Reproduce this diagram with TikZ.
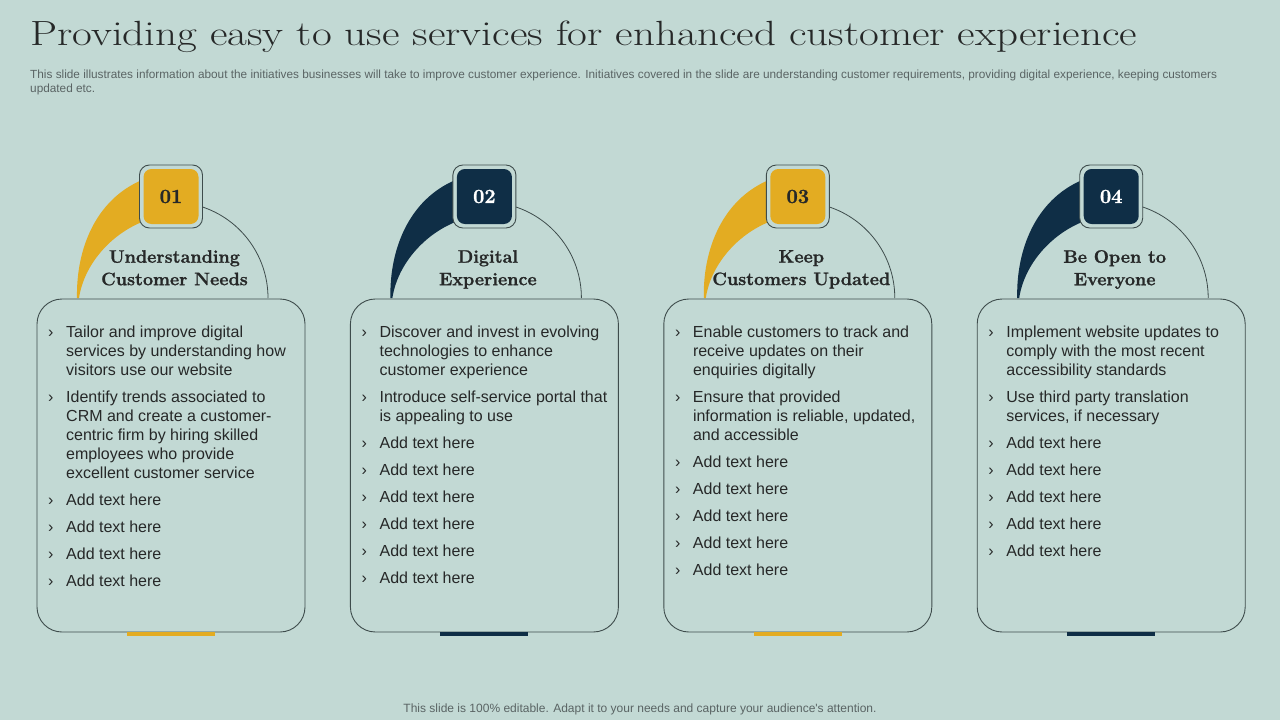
\documentclass[tikz,border=0pt]{standalone}
\usepackage{fontspec}
\usepackage{xcolor}
\usepackage{graphicx}
\usepackage{tikz}
\usetikzlibrary{positioning}
\newfontfamily\bodyfont{Liberation Sans}
\newfontfamily\headfont[BoldFeatures={FakeBold=1.2}]{Latin Modern Roman}
\definecolor{slidebg}{HTML}{C2D9D4}
\definecolor{gold}{HTML}{E3AC22}
\definecolor{navy}{HTML}{0F2E46}
\definecolor{inkline}{HTML}{3E4C4C}
\definecolor{inktext}{HTML}{262828}
\definecolor{subtext}{HTML}{5A6464}

\begin{document}
\begin{tikzpicture}[x=1pt,y=-1pt,
	card/.style={draw=inkline, line width=0.9pt, rounded corners=25pt, minimum width=268pt, minimum height=333pt, inner sep=0pt},
	numbox/.style={draw=inkline, fill=slidebg, line width=0.9pt, rounded corners=10pt, minimum size=63pt, inner sep=0pt},
	numfill/.style={rounded corners=8pt, minimum size=55pt, inner sep=0pt, font=\headfont\fontsize{20}{24}\selectfont\bfseries},
	heading/.style={anchor=north, align=center, inner sep=0pt, text=inktext, font=\headfont\fontsize{18}{22.5}\selectfont\bfseries},
	itemtext/.style={anchor=base west, inner sep=0pt, text=inktext, font=\bodyfont\fontsize{16}{19}\selectfont}
	]
	\fill[slidebg] (0,0) rectangle (1280,720);
	\useasboundingbox (0,0) rectangle (1280,720);
	
	% Title and subtitle
	\node[anchor=base west, inner sep=0pt, text=inktext, font=\fontsize{35}{38}\selectfont] (title) at (30,45) {\scalebox{1.23}[1]{Providing easy to use services for enhanced customer experience}};
	\node[anchor=base west, inner sep=0pt, align=left, text=subtext, font=\bodyfont\fontsize{11.8}{13.5}\selectfont] (subtitle) at (30,92) {This slide illustrates information about the initiatives businesses will take to improve customer experience. Initiatives covered in the slide are understanding customer requirements, providing digital experience, keeping customers\\updated etc.};
	
	% Four cards
	\foreach \i/\cx/\col/\numcol/\head in {1/171/gold/inktext/{Understanding\\Customer Needs}, 2/484.4/navy/white/{Digital\\Experience}, 3/797.8/gold/inktext/{Keep\\Customers Updated}, 4/1111.2/navy/white/{Be Open to\\Everyone}}{
		\fill[\col] ({\cx-94},298) .. controls ({\cx-95},250) and ({\cx-76},200) .. ({\cx-29},180) -- ({\cx-29},222) .. controls ({\cx-61},235) and ({\cx-87},265) .. ({\cx-92},298) -- cycle;
		\draw[inkline, line width=0.8pt] ({\cx+97},298) arc[start angle=0, end angle=75, radius=96pt];
		\node[card] (card\i) at (\cx,465.5) {};
		\draw[\col, line width=3.5pt] ({\cx-44},634) -- ({\cx+44},634);
		\node[numbox] (num\i) at (\cx,196.5) {};
		\node[numfill, fill=\col, text=\numcol] (numin\i) at (num\i) {0\i};
		\node[heading] (head\i) at ({\cx+3.5},250) {\head};
	}
	
	% Bullet lists
	\node[itemtext] (list1) at (48,337) {\begin{tabular}[t]{@{}p{18pt}@{}l@{}}
			› & Tailor and improve digital\\ & services by understanding how\\ & visitors use our website\\[8pt]
			› & Identify trends associated to\\ & CRM and create a customer-\\ & centric firm by hiring skilled\\ & employees who provide\\ & excellent customer service\\[8pt]
			› & Add text here\\[8pt] › & Add text here\\[8pt] › & Add text here\\[8pt] › & Add text here
		\end{tabular}};
	\node[itemtext] (list2) at (361.4,337) {\begin{tabular}[t]{@{}p{18pt}@{}l@{}}
			› & Discover and invest in evolving\\ & technologies to enhance\\ & customer experience\\[8pt]
			› & Introduce self-service portal that\\ & is appealing to use\\[8pt]
			› & Add text here\\[8pt] › & Add text here\\[8pt] › & Add text here\\[8pt] › & Add text here\\[8pt] › & Add text here\\[8pt] › & Add text here
		\end{tabular}};
	\node[itemtext] (list3) at (674.8,337) {\begin{tabular}[t]{@{}p{18pt}@{}l@{}}
			› & Enable customers to track and\\ & receive updates on their\\ & enquiries digitally\\[8pt]
			› & Ensure that provided\\ & information is reliable, updated,\\ & and accessible\\[8pt]
			› & Add text here\\[8pt] › & Add text here\\[8pt] › & Add text here\\[8pt] › & Add text here\\[8pt] › & Add text here
		\end{tabular}};
	\node[itemtext] (list4) at (988.2,337) {\begin{tabular}[t]{@{}p{18pt}@{}l@{}}
			› & Implement website updates to\\ & comply with the most recent\\ & accessibility standards\\[8pt]
			› & Use third party translation\\ & services, if necessary\\[8pt]
			› & Add text here\\[8pt] › & Add text here\\[8pt] › & Add text here\\[8pt] › & Add text here\\[8pt] › & Add text here
		\end{tabular}};
	
	% Footer
	\node[anchor=base, inner sep=0pt, text=subtext, font=\bodyfont\fontsize{12}{14}\selectfont] (footer) at (640,712) {This slide is 100\% editable. Adapt it to your needs and capture your audience's attention.};
\end{tikzpicture}
\end{document}
